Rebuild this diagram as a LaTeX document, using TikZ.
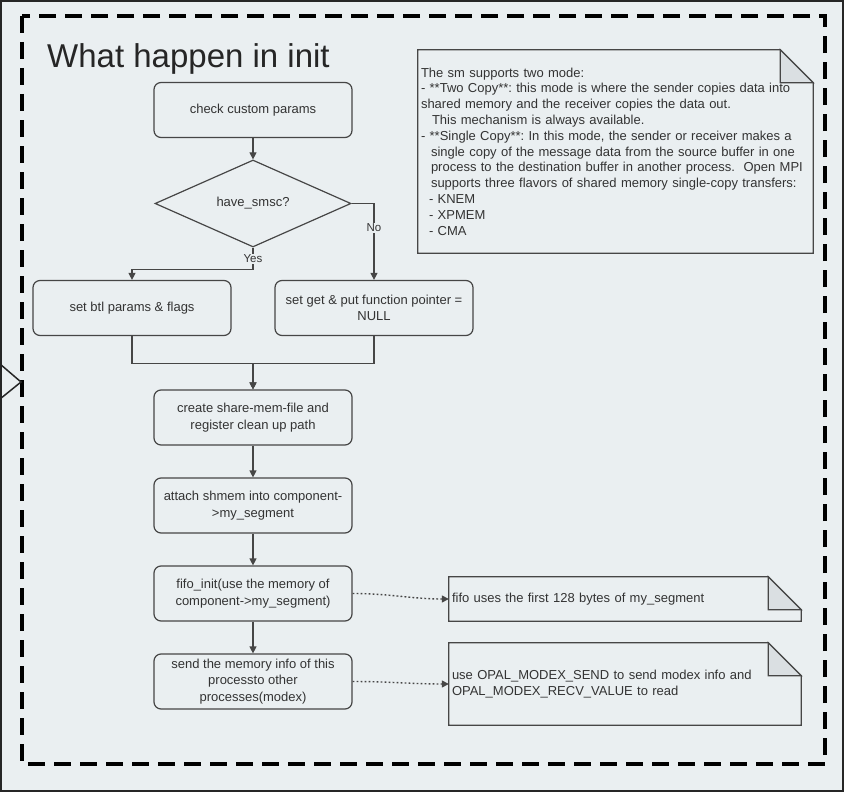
\documentclass[tikz,border=0pt]{standalone}
\usepackage{fontspec}
\setmainfont{Liberation Sans}
\usetikzlibrary{shapes.geometric,arrows.meta}
\definecolor{bg}{RGB}{234,239,241}
\definecolor{ln}{RGB}{70,70,70}
\definecolor{txt}{RGB}{51,51,51}
\definecolor{fold}{RGB}{218,223,226}
\frenchspacing

\begin{document}
\begin{tikzpicture}[x=1pt,y=-1pt,node distance=88pt,
  box/.style={draw=ln,line width=1.2pt,rounded corners=7pt,minimum width=198pt,minimum height=55pt,inner sep=2pt,align=center,text=txt,font=\fontsize{13}{16.5}\selectfont},
  dec/.style={diamond,draw=ln,line width=1.2pt,minimum width=196pt,minimum height=87pt,aspect=2.25,inner sep=0pt,text=txt,font=\fontsize{13}{16.5}\selectfont},
  note/.style={inner xsep=3pt,inner ysep=0pt,align=left,text=txt,font=\fontsize{13}{15.8}\selectfont},
  noteline/.style={draw=ln,line width=1.2pt},
  flow/.style={draw=ln,line width=1.2pt,-{Triangle[length=7pt,width=7pt]}},
  dotflow/.style={flow,line width=1.4pt,dash pattern=on 1.8pt off 2.2pt},
  lbl/.style={fill=bg,inner sep=1pt,text=txt,font=\fontsize{11.5}{13}\selectfont}]
\useasboundingbox (0,0) rectangle (844,792);
\fill[bg] (0,0) rectangle (844,792);
\draw[black!85,line width=2pt] (1,1) rectangle (843,791);
\draw[black,line width=4pt,dash pattern=on 17pt off 9pt] (22,16) rectangle (825,764);
\draw[black!85,line width=1.5pt] (0,364) -- (21,382) -- (0,399);

\node[anchor=base west,inner sep=0pt,text=black!85,font=\fontsize{33}{40}\selectfont] (title) at (47,67) {What happen in init};

\node[box] (check) at (253,110) {check custom params};
\node[dec] (smsc) at (253,203.5) {have\_smsc?};
\node[box] (btl) at (132,308) {set btl params \& flags};
\node[box] (getput) at (374,308) {set get \& put function pointer =\\NULL};
\node[box] (create) at (253,417.5) {create share-mem-file and\\register clean up path};
\node[box, below of=create] (attach) {attach shmem into component-\\>my\_segment};
\node[box, below of=attach] (fifo) {fifo\_init(use the memory of\\component->my\_segment)};
\node[box, below of=fifo] (send) {send the memory info of this\\processto other\\processes(modex)};

\node[note,text width=389pt,minimum height=203pt] (smnote) at (615.5,151.5) {The sm supports two mode:\\
- **Two Copy**: this mode is where the sender copies data into\\
shared memory and the receiver copies the data out.\\
\hspace*{11pt}This mechanism is always available.\\
- **Single Copy**: In this mode, the sender or receiver makes a\\
\hspace*{10pt}single copy of the message data from the source buffer in one\\
\hspace*{10pt}process to the destination buffer in another process.\ \ Open MPI\\
\hspace*{10pt}supports three flavors of shared memory single-copy transfers:\\
\hspace*{8pt}- KNEM\\
\hspace*{8pt}- XPMEM\\
\hspace*{8pt}- CMA};
\node[note,text width=346pt,minimum height=44pt] (fifonote) at (625,599) {fifo uses the first 128 bytes of my\_segment};
\node[note,text width=346pt,minimum height=82pt] (modexnote) at (625,684) {use OPAL\_MODEX\_SEND to send modex info and\\OPAL\_MODEX\_RECV\_VALUE to read};

\draw[noteline] (smnote.south west) -- (smnote.north west) -- ([xshift=-33pt]smnote.north east) -- ([yshift=-33pt]smnote.north east) -- (smnote.south east) -- cycle;
\filldraw[noteline,fill=fold] ([xshift=-33pt]smnote.north east) -- ([xshift=-33pt,yshift=-33pt]smnote.north east) -- ([yshift=-33pt]smnote.north east) -- cycle;
\draw[noteline] (fifonote.south west) -- (fifonote.north west) -- ([xshift=-33pt]fifonote.north east) -- ([yshift=-33pt]fifonote.north east) -- (fifonote.south east) -- cycle;
\filldraw[noteline,fill=fold] ([xshift=-33pt]fifonote.north east) -- ([xshift=-33pt,yshift=-33pt]fifonote.north east) -- ([yshift=-33pt]fifonote.north east) -- cycle;
\draw[noteline] (modexnote.south west) -- (modexnote.north west) -- ([xshift=-33pt]modexnote.north east) -- ([yshift=-33pt]modexnote.north east) -- (modexnote.south east) -- cycle;
\filldraw[noteline,fill=fold] ([xshift=-33pt]modexnote.north east) -- ([xshift=-33pt,yshift=-33pt]modexnote.north east) -- ([yshift=-33pt]modexnote.north east) -- cycle;

\draw[flow] (check) -- (smsc);
\draw[flow] (smsc.south) -- node[lbl] {Yes} ++(0,22) -| (btl.north);
\draw[flow] (smsc.east) -| node[lbl,pos=0.66] {No} (getput.north);
\draw[flow] (btl.south) -- ++(0,27) -| (create.north);
\draw[flow] (getput.south) -- ++(0,27) -| (create.north);
\draw[flow] (create) -- (attach);
\draw[flow] (attach) -- (fifo);
\draw[flow] (fifo) -- (send);
\draw[dotflow] (fifo.east) to[out=0,in=180] (fifonote.west);
\draw[dotflow] (send.east) to[out=0,in=180] (modexnote.west);
\end{tikzpicture}
\end{document}
